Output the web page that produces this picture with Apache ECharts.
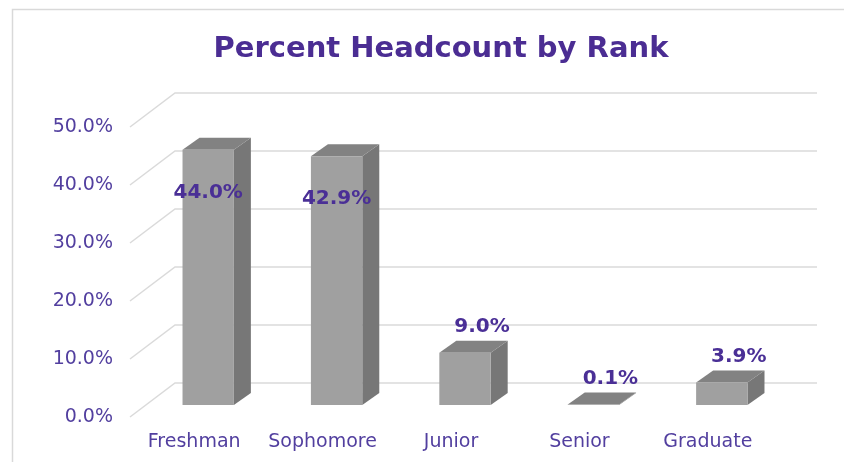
<!DOCTYPE html>
<html>
<head>
<meta charset="utf-8">
<script src="https://cdn.jsdelivr.net/npm/echarts@6/dist/echarts.min.js"></script>
<style>html,body{margin:0;padding:0;background:#fff}#c{width:844px;height:462px}</style>
</head>
<body>
<div id="c"></div>
<script>
const categories = ['Freshman', 'Sophomore', 'Junior', 'Senior', 'Graduate'];
const values = [44.0, 42.9, 9.0, 0.1, 3.9];
const yTicks = [0, 10, 20, 30, 40, 50];

const WALL = [45, -34];   // back wall offset from front plane
const BF = [14, -12];     // bar front face offset
const BD = [17, -12];     // bar depth
const TXT = '#4a2f96';

const chart = echarts.init(document.getElementById('c'), null, {renderer: 'canvas'});

function gridItem(params, api) {
  const cs = params.coordSys;
  const y = api.coord([0, api.value(1)])[1];
  const x0 = cs.x, x1 = cs.x + cs.width;
  return {
    type: 'polyline',
    shape: {points: [[x0, y], [x0 + WALL[0], y + WALL[1]], [x1 + WALL[0], y + WALL[1]]]},
    style: {stroke: '#dadada', lineWidth: 1.5, fill: null},
    silent: true
  };
}

function barItem(params, api) {
  const cs = params.coordSys;
  const i = api.value(0), v = api.value(1);
  const p0 = api.coord([i, 0]);
  const p1 = api.coord([i, v]);
  const bw = api.size([1, 0])[0] * 0.4;
  const xl = p0[0] + BF[0] - bw / 2, xr = xl + bw;
  const yb = p0[1] + BF[1], yt = p1[1] + BF[1];
  const children = [
    {type: 'polygon', shape: {points: [[xr, yt], [xr + BD[0], yt + BD[1]], [xr + BD[0], yb + BD[1]], [xr, yb]]},
     style: {fill: '#777777'}},
    {type: 'polygon', shape: {points: [[xl, yt], [xl + BD[0], yt + BD[1]], [xr + BD[0], yt + BD[1]], [xr, yt]]},
     style: {fill: '#828282'}},
    {type: 'rect', shape: {x: xl, y: yt, width: bw, height: Math.max(yb - yt, 0)},
     style: {fill: '#a0a0a0'}}
  ];
  const txt = v.toFixed(1) + '%';
  let lx = (xl + xr) / 2 + BD[0], ly = yt + BD[1] - 14;
  if (ly - 10 < cs.y) { lx = (xl + xr) / 2; ly = yt + 43; }
  children.push({type: 'text', x: lx, y: ly,
    style: {text: txt, fill: TXT, font: 'bold 20px "DejaVu Sans"', align: 'center', verticalAlign: 'middle'}});
  return {type: 'group', children};
}

chart.setOption({
  animation: false,
  backgroundColor: '#ffffff',
  title: {
    text: 'Percent Headcount by Rank',
    left: 436, top: 44, textAlign: 'center', textVerticalAlign: 'middle',
    textStyle: {color: '#4b2d93', fontFamily: 'DejaVu Sans', fontWeight: 'bold', fontSize: 29}
  },
  graphic: [
    {type: 'polyline', shape: {points: [[12.5, 462], [12.5, 9.5], [844, 9.5]]},
     style: {stroke: '#d9d9d9', lineWidth: 1.5, fill: null}, silent: true}
  ],
  grid: {left: 130, right: 72, top: 127, bottom: 45},
  xAxis: {
    type: 'category', data: categories,
    axisLine: {show: false}, axisTick: {show: false},
    axisLabel: {interval: 0, color: '#523f9f', fontFamily: 'DejaVu Sans', fontSize: 19, margin: 16}
  },
  yAxis: {
    type: 'value', min: 0, max: 50, interval: 10,
    axisLine: {show: false}, axisTick: {show: false}, splitLine: {show: false},
    axisLabel: {color: '#523f9f', fontFamily: 'DejaVu Sans', fontSize: 19, margin: 17,
      formatter: v => v.toFixed(1) + '%'}
  },
  series: [
    {type: 'custom', renderItem: gridItem, data: yTicks.map(t => [0, t]), encode: {x: 0, y: 1}, z: 1, silent: true},
    {type: 'custom', renderItem: barItem, data: values.map((v, i) => [i, v]), encode: {x: 0, y: 1}, z: 2}
  ]
});
</script>
</body>
</html>
